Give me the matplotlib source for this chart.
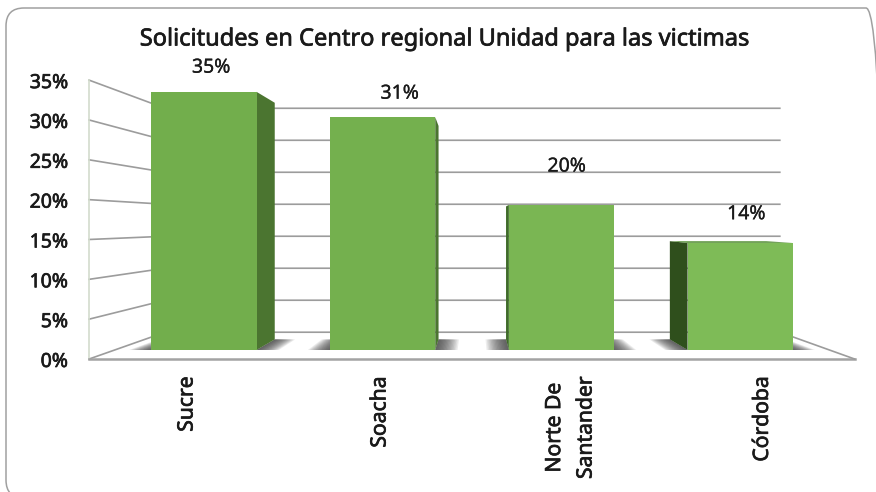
import matplotlib
matplotlib.use("Agg")
import matplotlib.pyplot as plt
import matplotlib.patheffects as pe
from matplotlib.patches import FancyBboxPatch, Polygon
from matplotlib.transforms import IdentityTransform

# data
title = "Solicitudes en Centro regional Unidad para las victimas"
categories = ["Sucre", "Soacha", "Norte De\nSantander", "Córdoba"]
values = [34.7, 31.3, 19.5, 14.4]
value_labels = ["35%", "31%", "20%", "14%"]
y_ticks = [0, 5, 10, 15, 20, 25, 30, 35]

# layout
W, H = 876, 492
PX_PER_CAT, PX_PER_PCT = 178.7, 7.44
X0_PX, Y0_PX = 204, 350
VX, VY = 1.5165, 17.07            # vanishing point
S_FRONT, S_BACK, S_WALL = 1.071, 11 / 12, 0.86
BAR_W = 0.588
LABEL_DX = [0.04, 0.095, 0.03, 0.035]
LABEL_DY = [3.25, 3.15, 5.15, 3.85]
CAT_X = [-0.095, -0.015, 0.05, 0.125]
FRONT = ["#72ae4c", "#74b04e", "#7ab653", "#7ebb57"]
SIDE = ["#4b7530", "#4b7530", "#3f6b29", "#2f4f1c"]
GRID = "#9c9c9c"
INK = "#1a1a1a"
FONT = "Noto Sans"
HEAVY = [pe.withStroke(linewidth=0.5, foreground=INK)]
LIGHT = [pe.withStroke(linewidth=0.2, foreground=INK)]


def proj(x, y, s):
    return VX + (x - VX) * s, VY + (y - VY) * s


fig = plt.figure(figsize=(W / 100, H / 100), dpi=100, facecolor="white")
ax = fig.add_axes([0, 0, 1, 1])
ax.set_xlim(-X0_PX / PX_PER_CAT, (W - X0_PX) / PX_PER_CAT)
ax.set_ylim(-(H - Y0_PX) / PX_PER_PCT, Y0_PX / PX_PER_PCT)
ax.axis("off")

# rounded frame (display pixels)
fig.add_artist(FancyBboxPatch((24, 12), 842, 454, boxstyle="round,pad=18,rounding_size=18",
                              fc="none", ec="#a0a0a0", lw=1.1, transform=IdentityTransform()))

# wall and floor lines
L, R = -0.5, 3.5
for v in y_ticks:
    xa, ya = proj(L, v, S_FRONT)
    xb, yb = proj(L, v, S_WALL)
    xc, yc = proj(R, v, S_WALL)
    ax.plot([xa, xb, xc], [ya, yb, yc], color=GRID, lw=1.2, zorder=1, solid_joinstyle="miter")
    ax.text(xa - 0.117, ya - 0.4, f"{v}%", ha="right", va="center", fontsize=14, family=FONT,
            color=INK, path_effects=HEAVY)
xa, ya0 = proj(L, 0, S_FRONT)
_, ya1 = proj(L, 35, S_FRONT)
ax.plot([xa, xa], [ya0, ya1], color="#d3dccd", lw=1.2, zorder=1)
ax.plot(*zip(proj(L, 0, S_FRONT), proj(R, 0, S_FRONT)), color="#a3a3a3", lw=1.8, zorder=1)
ax.plot(*zip(proj(R, 0, S_FRONT), proj(R, 0, S_WALL)), color=GRID, lw=1.2, zorder=1)

# shadows on the floor: nested layers build a soft fall-off
N_LAYERS, SPREAD = 16, 0.125
for i in range(len(categories)):
    x0, x1 = i - BAR_W / 2, i + BAR_W / 2
    for j in range(1, N_LAYERS + 1):
        d = SPREAD * j / N_LAYERS
        for a, b in ((x1, x1 + d), (x0 - d, x0)):
            pts = [proj(a, 0, 1), proj(b, 0, 1), proj(b, 0, S_BACK), proj(a, 0, S_BACK)]
            ax.add_patch(Polygon(pts, fc="#3c3c3c", ec="none", alpha=0.09, zorder=2))

# bars with side and top faces
ax.bar(range(len(categories)), values, width=BAR_W, color=FRONT, zorder=4)
for i, v in enumerate(values):
    x0, x1 = i - BAR_W / 2, i + BAR_W / 2
    edge = x1 if i < VX else x0
    side = [proj(edge, 0, 1), proj(edge, v, 1), proj(edge, v, S_BACK), proj(edge, 0, S_BACK)]
    ax.add_patch(Polygon(side, fc=SIDE[i], ec="none", zorder=3))
    if v < VY:
        top = [proj(x0, v, 1), proj(x1, v, 1), proj(x1, v, S_BACK), proj(x0, v, S_BACK)]
        ax.add_patch(Polygon(top, fc="#5d9440", ec="none", zorder=3))

# labels
for i, (v, t) in enumerate(zip(values, value_labels)):
    ax.text(i + LABEL_DX[i], v + LABEL_DY[i], t, ha="center", va="center", fontsize=14,
            family=FONT, color=INK, zorder=6, path_effects=LIGHT)
for i, c in enumerate(categories):
    ax.text(i + CAT_X[i], -3.55, c, rotation=90, ha="center", va="top", ma="center", fontsize=15.2,
            family=FONT, color=INK, linespacing=1.65, path_effects=HEAVY)
ax.text(0.5 * (139 + 750) / W, 1 - 39.5 / H, title, transform=ax.transAxes, ha="center", va="center",
        fontsize=17, family=FONT, color=INK, path_effects=HEAVY)

fig.savefig("out.png", dpi=100, facecolor="white")
